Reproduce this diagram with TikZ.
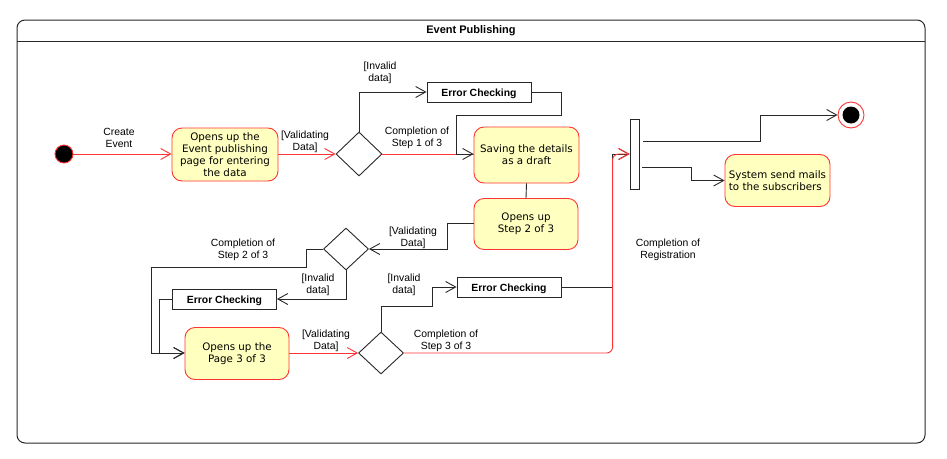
\documentclass[tikz,border=0pt]{standalone}
\usepackage{fontspec}
\setmainfont{Liberation Sans}
\newfontfamily\actfont{DejaVu Sans}
\usetikzlibrary{shapes.geometric,arrows.meta,calc}
\definecolor{actfill}{RGB}{255,255,192}
\definecolor{actred}{RGB}{255,51,51}
\definecolor{lineblk}{RGB}{40,40,40}
\begin{document}
\begin{tikzpicture}[x=1pt,y=-1pt,
 act/.style={draw=actred, fill=actfill, rounded corners=10pt, line width=0.9pt, inner sep=0pt, align=center, font=\actfont\fontsize{10.3}{12}\selectfont},
 errbox/.style={draw=lineblk, fill=white, line width=0.9pt, minimum width=104pt, minimum height=20pt, inner sep=0pt, text height=9pt, text depth=1pt, font=\bfseries\fontsize{10.4}{12}\selectfont},
 dec/.style={diamond, draw=lineblk, fill=white, line width=0.9pt, minimum width=46pt, minimum height=44pt, inner sep=0pt},
 lbl/.style={align=center, font=\fontsize{10.4}{12}\selectfont, inner sep=0pt},
 tip/.style={-{Straight Barb[length=10pt,width=11pt]}},
 flowk/.style={draw=lineblk, line width=0.9pt},
 flowr/.style={draw=actred, line width=0.9pt},
]
\useasboundingbox (0,0) rectangle (947,458);
% frame
\draw[lineblk, line width=1pt, rounded corners=8pt] (17,20) rectangle (925,443);
\draw[lineblk, line width=1pt] (17,41) -- (925,41);
\node[font=\bfseries\fontsize{11}{13}\selectfont] (title) at (471,31) {Event Publishing};

% nodes
\node[circle, fill=black, draw=actred, line width=0.9pt, minimum size=18pt, inner sep=0pt] (init) at (64,154) {};
\node[act, minimum width=106pt, minimum height=53pt] (act1) at (225,154.5) {Opens up the\\Event publishing\\page for entering\\the data};
\node[dec] (d1) at (359,154) {};
\node[errbox] (ec1) at (479,92) {Error Checking};
\node[act, minimum width=105pt, minimum height=56pt] (save) at (526.5,155) {Saving the details\\as a draft};
\node[act, minimum width=104pt, minimum height=51pt] (step2) at (526,224) {Opens up\\Step 2 of 3};
\node[dec, minimum height=42pt, minimum width=45pt] (d2) at (346,249) {};
\node[errbox] (ec2) at (224.5,299) {Error Checking};
\node[act, minimum width=104pt, minimum height=52pt] (p3) at (237,353.5) {Opens up the\\Page 3 of 3};
\node[dec, minimum height=42pt, minimum width=45pt] (d3) at (381,353) {};
\node[errbox] (ec3) at (509,287) {Error Checking};
\node[draw=lineblk, fill=white, line width=0.9pt, minimum width=9pt, minimum height=70pt, inner sep=0pt] (bar) at (634.5,154) {};
\node[circle, draw=actred, fill=white, line width=0.9pt, minimum size=26pt, inner sep=0pt,
  path picture={\fill[black] (path picture bounding box.center) circle (8.5pt);}] (final) at (851,115) {};
\node[act, minimum width=105pt, minimum height=52pt, align=left] (mail) at (777.5,180.5) {System send mails\\to the subscribers};

% labels
\node[lbl] (l1) at (119,138) {Create\\Event};
\node[lbl] (l2) at (305,142) {[Validating\\Data]};
\node[lbl] (l3) at (380,73) {[Invalid\\data]};
\node[lbl] (l4) at (417,137.5) {Completion of\\Step 1 of 3};
\node[lbl] (l5) at (413,237.5) {[Validating\\Data]};
\node[lbl] (l6) at (243,249.5) {Completion of\\Step 2 of 3};
\node[lbl] (l7) at (318,284.5) {[Invalid\\data]};
\node[lbl] (l8) at (326,340.5) {[Validating\\Data]};
\node[lbl] (l9) at (404,284.5) {[Invalid\\data]};
\node[lbl] (l10) at (446,340.5) {Completion of\\Step 3 of 3};
\node[lbl] (l11) at (668,250) {Completion of\\Registration};

% connectors
\draw[flowr, tip] (init) -- (init -| act1.west);
\draw[flowr, tip] (act1.east |- d1) -- (d1);
\draw[flowk, tip] (d1.north) |- (ec1.west);
\draw[flowr] (d1.east) -- (d1.east -| save.west);
\draw[flowk, tip] (ec1.east) -- ++(30,0) -- ++(0,23) -| ([xshift=-17pt]d1.east -| save.west) -- (d1.east -| save.west);
\draw[flowk] (save.south) -- (step2.north);
\draw[flowk, tip] ([yshift=0.5pt]step2.west) -- ++(-26,0) |- (d2.east);
\draw[flowk, tip] (d2.west) -| (306,267) -| (151,353) -- (d3 -| p3.west);
\draw[flowk, tip] (d2.south) |- (ec2.east);
\draw[flowk, tip] (ec2.west) -| (159,353) -- (d3 -| p3.west);
\draw[flowr, tip] (d3 -| p3.east) -- (d3);
\draw[flowk, tip] (d3.north) |- (432,306) |- (ec3.west);
\draw[flowk, tip] (ec3.east) -| ([xshift=-17pt]bar.west) -- (bar.west);
\draw[flowr, tip, rounded corners=6pt] (d3.east) -| ([xshift=-17pt]bar.west) -- (bar.west);
\draw[flowk, tip] ([yshift=13pt,xshift=4pt]bar.east) -- ++(117,0) |- (final.west);
\draw[flowk, tip] ([yshift=-13pt,xshift=3pt]bar.east) -- ++(49,0) |- (mail.west);
\end{tikzpicture}
\end{document}
